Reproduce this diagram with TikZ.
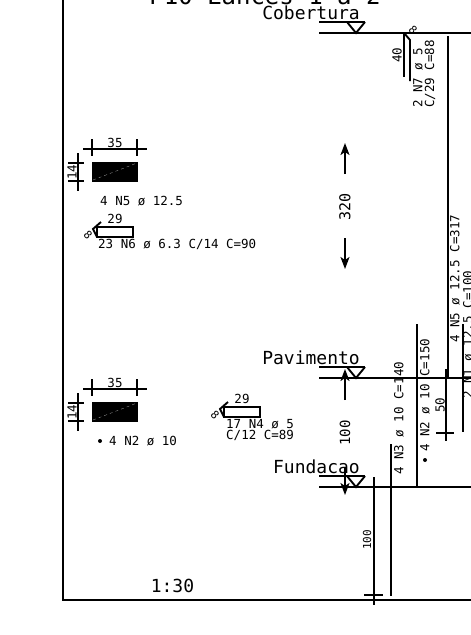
\documentclass[tikz,border=0pt]{standalone}
\usepackage{fontspec}
\setmonofont{DejaVu Sans Mono}
\usetikzlibrary{arrows.meta}
\tikzset{
    rotulo/.style={font=\ttfamily\fontsize{12.5}{14}\selectfont, inner sep=0pt},
    gancho/.style={font=\ttfamily\fontsize{11}{12}\selectfont, inner sep=0pt, rotate=-45},
    nivelnome/.style={font=\ttfamily\fontsize{18}{20}\selectfont, inner sep=0pt, anchor=base east},
    cota/.style={font=\ttfamily\fontsize{15}{17}\selectfont, inner sep=0pt, rotate=90},
    barra/.style={line width=1.9pt},
    nivel/.pic={
        % Reference lines
        \draw[barra] (0,-11) -- (46,-11);
        \draw[barra] (0,0) -- (152,0);
        % Triangle
        \draw[barra] (28,-11) -- (37,0) -- (46,-11);
    },
    secao/.pic={
        % Concrete
        \fill[black] (0,0) rectangle (46,20);
        \draw[gray!70, line width=0.3pt, dashed] (1,18) -- (45,1);
        % Width
        \draw[barra] (-9,-13) -- (55,-13);
        \draw[barra] (0,-23) -- (0,-6);
        \draw[barra] (45,-23) -- (45,-6);
        \node[rotulo] (largura) at (23,-19) {35};
        % Height
        \draw[barra] (-14,-9) -- (-14,29);
        \draw[barra] (-24,1) -- (-8,1);
        \draw[barra] (-24,19) -- (-8,19);
        \node[rotulo, rotate=90] (altura) at (-20,10) {14};
    },
    estribo/.pic={
        % Stirrup
        \draw[barra] (0,0) rectangle (36,10);
        % Hook
        \draw[barra] (0,10) -- (-4,2) -- (4,-5);
        \node[gancho] (ganchoE) at (-9,8) {8};
        \node[rotulo] (comprimento) at (18,-8) {29};
    },
}
\begin{document}
\begin{tikzpicture}[>={Stealth[length=12pt,width=9pt,inset=3pt]}, x=1pt, y=-1pt]

    \useasboundingbox (0,0) rectangle (471,635);
    \clip (0,0) rectangle (471,635);

    % Frame
    \draw[line width=1.6pt] (63,-2) -- (63,600) -- (473,600);

    % Title
    \node[font=\ttfamily\fontsize{24}{26}\selectfont, inner sep=0pt, anchor=base] (titulo) at (265,4) {P10 Lances 1 a 2};
    \node[font=\ttfamily\fontsize{18}{20}\selectfont, inner sep=0pt, anchor=base] (escala) at (172.5,592) {1:30};

    % Levels
    \pic at (319,33) {nivel};
    \pic at (319,378) {nivel};
    \pic at (319,487) {nivel};
    \node[nivelnome] (cobertura) at (360,19) {Cobertura};
    \node[nivelnome] (pavimento) at (360,364) {Pavimento};
    \node[nivelnome] (fundacao) at (360,473) {Fundacao};

    % Storey heights
    \node[cota] (alturaA) at (345,207) {320};
    \draw[->, barra] (345,174) -- (345,143);
    \draw[->, barra] (345,238) -- (345,269);
    \node[cota, font=\ttfamily\fontsize{14}{16}\selectfont] (alturaB) at (345,433) {100};
    \draw[->, barra] (345,400) -- (345,369);
    \draw[->, barra] (345,467) -- (345,495);

    % Sections
    \pic at (92,162) {secao};
    \pic at (92,402) {secao};
    \node[rotulo, anchor=west] (armA) at (100,201) {4 N5 ø 12.5};
    \fill (100,441) circle (2);
    \node[rotulo, anchor=west] (armB) at (109,441) {4 N2 ø 10};

    % Stirrups
    \pic at (97,227) {estribo};
    \pic at (224,407) {estribo};
    \node[rotulo, anchor=west] (estriboA) at (98,244) {23 N6 ø 6.3 C/14 C=90};
    \node[rotulo, anchor=west] (estriboB) at (226,424) {17 N4 ø 5};
    \node[rotulo, anchor=west] (estriboC) at (226,435) {C/12 C=89};

    % Top bars
    \draw[barra] (404,33) -- (404,77);
    \draw[barra] (404,33) -- (410,40) -- (410,81);
    \node[gancho] (ganchoT) at (413,30) {8};
    \node[rotulo, rotate=90] (quarenta) at (397,55) {40};
    \node[rotulo, rotate=90, anchor=west] (barraN7) at (418,108) {2 N7 ø 5};
    \node[rotulo, rotate=90, anchor=west] (barraN7c) at (430,108) {C/29 C=88};

    % Column bars
    \draw[barra] (448,36) -- (448,378);
    \draw[barra] (463,324) -- (463,432);
    \draw[barra] (417,324) -- (417,487);
    \draw[barra] (391,444) -- (391,596);
    \node[rotulo, rotate=90, anchor=west] (barraN3) at (399,475) {4 N3 ø 10 C=140};
    \fill (425,460) circle (2);
    \node[rotulo, rotate=90, anchor=west] (barraN2) at (425,452) {4 N2 ø 10 C=150};
    \node[rotulo, rotate=90, anchor=west] (barraN5) at (455,343) {4 N5 ø 12.5 C=317};
    \node[rotulo, rotate=90, anchor=west] (barraN1) at (468,399) {2 N1 ø 12.5 C=100};

    % Splice lengths
    \draw[barra] (446,369) -- (446,441);
    \draw[barra] (436,378) -- (454,378);
    \draw[barra] (436,433) -- (454,433);
    \node[rotulo, rotate=90] (cinquenta) at (440,405) {50};
    \draw[barra] (374,477) -- (374,605);
    \draw[barra] (364,487) -- (383,487);
    \draw[barra] (364,595) -- (383,595);
    \node[rotulo, rotate=90, font=\ttfamily\fontsize{11}{13}\selectfont] (cem) at (367,540) {100};

\end{tikzpicture}
\end{document}
